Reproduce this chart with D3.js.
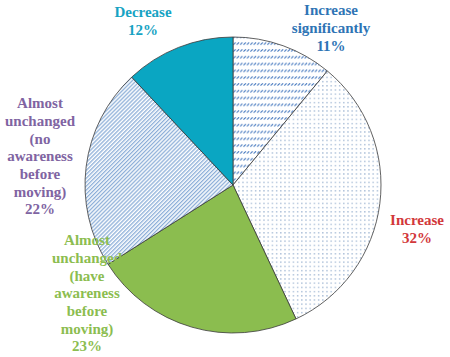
<!DOCTYPE html>
<html>
<head>
<meta charset="utf-8">
<script src="https://cdn.jsdelivr.net/npm/d3@7"></script>
<style>
  html, body { margin: 0; padding: 0; background: #fff; }
  svg { display: block; }
  text.lbl { font-family: "Liberation Serif", "DejaVu Serif", serif; }
</style>
</head>
<body>
<div id="chart"></div>
<script>
// data, clockwise from 12 o'clock
const categories = ["Increase significantly", "Increase", "Almost unchanged (have awareness before moving)", "Almost unchanged (no awareness before moving)", "Decrease"];
const values = [11, 32, 23, 22, 12];
const labelLines = [
  ["Increase", "significantly", "11%"],
  ["Increase", "32%"],
  ["Almost", "unchanged", "(have", "awareness", "before", "moving)", "23%"],
  ["Almost", "unchanged", "(no", "awareness", "before", "moving)", "22%"],
  ["Decrease", "12%"]
];

const params = {
  width: 450,
  height: 357,
  cx: 233,
  cy: 185,
  radius: 148,
  line_h: 17.7
};

// fill and label colour per slice
const fills = ["url(#p-sig)", "url(#p-dots)", "#8bbd4f", "url(#p-diag)", "#0aa6c2"];
const textColors = ["#2e74b5", "#d2383b", "#8cbd50", "#8064a2", "#17a3c3"];
// label anchor (center x, y of first line) -- hand placed like the original
const labelPos = [
  { x: 331, y: 10 },
  { x: 417, y: 220 },
  { x: 87, y: 240 },
  { x: 40, y: 103 },
  { x: 143, y: 12 }
];

const svg = d3.select("#chart").append("svg")
  .attr("width", params.width)
  .attr("height", params.height);

// hatch patterns
const defs = svg.append("defs");

const sig = defs.append("pattern")
  .attr("id", "p-sig")
  .attr("patternUnits", "userSpaceOnUse")
  .attr("width", 3.4).attr("height", 6.8);
sig.append("rect").attr("width", 3.4).attr("height", 6.8).attr("fill", "#fff");
sig.append("line")
  .attr("x1", 0.3).attr("y1", 2.6).attr("x2", 2.6).attr("y2", 0.3)
  .attr("stroke", "#3f74bd").attr("stroke-width", 1.1);

const dots = defs.append("pattern")
  .attr("id", "p-dots")
  .attr("patternUnits", "userSpaceOnUse")
  .attr("width", 4.2).attr("height", 4.2);
dots.append("rect").attr("width", 4.2).attr("height", 4.2).attr("fill", "#fff");
dots.append("rect").attr("x", 1).attr("y", 1).attr("width", 1.2).attr("height", 1.2)
  .attr("fill", "#8aa6c9");

const diag = defs.append("pattern")
  .attr("id", "p-diag")
  .attr("patternUnits", "userSpaceOnUse")
  .attr("width", 2.8).attr("height", 6)
  .attr("patternTransform", "rotate(45)");
diag.append("rect").attr("width", 2.8).attr("height", 6).attr("fill", "#fff");
diag.append("rect").attr("width", 1.3).attr("height", 6).attr("fill", "#8caed8");

const pie = d3.pie().sort(null).value(d => d)(values);
const arc = d3.arc().innerRadius(0).outerRadius(params.radius);

const g = svg.append("g")
  .attr("transform", `translate(${params.cx},${params.cy})`);

g.selectAll("path.slice")
  .data(pie)
  .join("path")
  .attr("class", "slice")
  .attr("d", arc)
  .attr("fill", (d, i) => fills[i])
  .attr("stroke", "#3a3a3a")
  .attr("stroke-width", 0.8);

// labels
const labels = svg.selectAll("text.lbl")
  .data(categories)
  .join("text")
  .attr("class", "lbl")
  .attr("font-weight", "bold")
  .attr("font-size", 15)
  .attr("text-anchor", "middle")
  .attr("fill", (d, i) => textColors[i])
  .attr("x", (d, i) => labelPos[i].x)
  .attr("y", (d, i) => labelPos[i].y);

labels.selectAll("tspan")
  .data((d, i) => labelLines[i].map(t => ({ t, i })))
  .join("tspan")
  .attr("x", d => labelPos[d.i].x)
  .attr("y", (d, j) => labelPos[d.i].y + j * params.line_h)
  .attr("dy", "0.35em")
  .text(d => d.t);
</script>
</body>
</html>
